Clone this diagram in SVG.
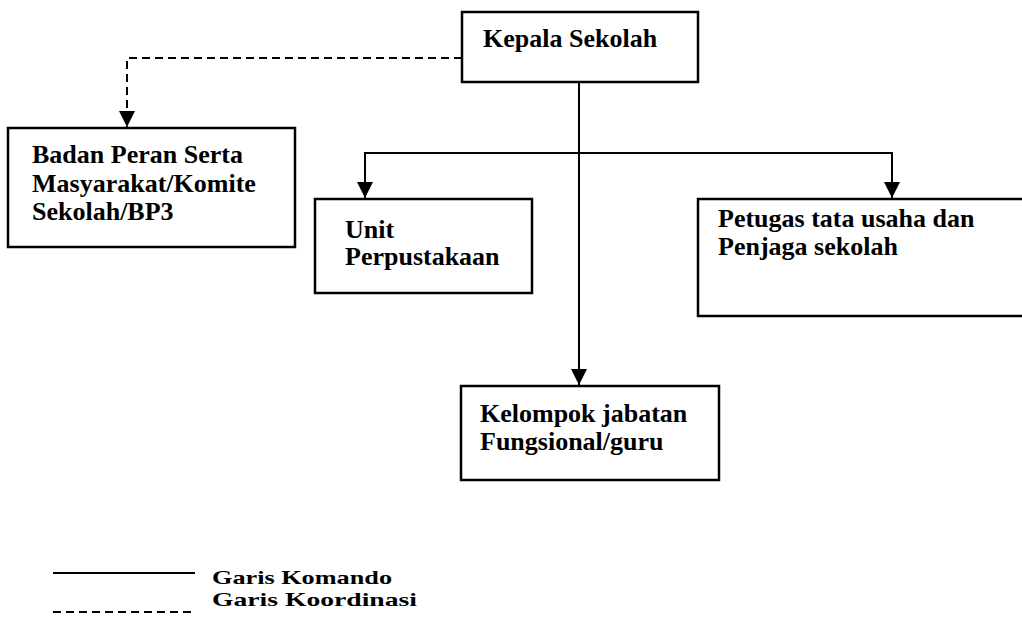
<svg xmlns="http://www.w3.org/2000/svg" width="1022" height="621" viewBox="0 0 1022 621">
<style>
.box{fill:#fff;stroke:#000;stroke-width:2.5}
.t{font-family:"Liberation Serif","Times New Roman",serif;font-weight:bold;font-size:26px;fill:#000}
.lg{font-family:"Liberation Serif","Times New Roman",serif;font-weight:bold;font-size:19px;fill:#000}
.ln{fill:none;stroke:#000;stroke-width:2}
.dash{stroke-dasharray:8 5}
</style>
<defs>
<marker id="ah" markerWidth="16" markerHeight="16" refX="16" refY="8" orient="auto" markerUnits="userSpaceOnUse">
<path d="M0,0 L16,8 L0,16 Z" fill="#000"/>
</marker>
</defs>
<rect width="1022" height="621" fill="#fff"/>
<g id="connectors">
<path class="ln dash" d="M462,58 H127 V127" marker-end="url(#ah)"/>
<path class="ln" d="M579,83 V385" marker-end="url(#ah)"/>
<path class="ln" d="M365,198 V153 H892 V198"/>
<path class="ln" d="M365,153 V198" marker-end="url(#ah)"/>
<path class="ln" d="M892,153 V198" marker-end="url(#ah)"/>
</g>
<g id="kepala">
<rect class="box" x="462" y="12" width="236" height="70"/>
<text class="t" x="483" y="47">Kepala Sekolah</text>
</g>
<g id="badan">
<rect class="box" x="8" y="128" width="287" height="119"/>
<text class="t" x="32" y="163">Badan Peran Serta</text>
<text class="t" x="32" y="192">Masyarakat/Komite</text>
<text class="t" x="32" y="220">Sekolah/BP3</text>
</g>
<g id="unit">
<rect class="box" x="315" y="199" width="217" height="94"/>
<text class="t" x="345" y="238">Unit</text>
<text class="t" x="345" y="265">Perpustakaan</text>
</g>
<g id="petugas">
<rect class="box" x="698" y="199" width="335" height="117"/>
<text class="t" x="718" y="227">Petugas tata usaha dan</text>
<text class="t" x="718" y="255">Penjaga sekolah</text>
</g>
<g id="kelompok">
<rect class="box" x="461" y="386" width="258" height="94"/>
<text class="t" x="480" y="422">Kelompok jabatan</text>
<text class="t" x="480" y="450">Fungsional/guru</text>
</g>
<g id="legend">
<line class="ln" x1="53" y1="573" x2="195" y2="573"/>
<line class="ln dash" x1="53" y1="612" x2="195" y2="612"/>
<text class="lg" x="212" y="584" textLength="180" lengthAdjust="spacingAndGlyphs">Garis Komando</text>
<text class="lg" x="212" y="606" textLength="205" lengthAdjust="spacingAndGlyphs">Garis Koordinasi</text>
</g>
</svg>
